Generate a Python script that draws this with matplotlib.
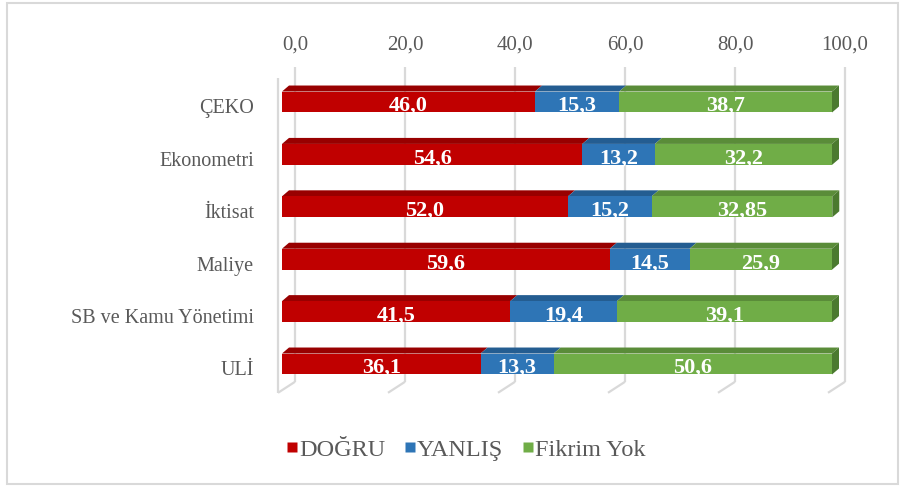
import matplotlib
matplotlib.use('Agg')
import matplotlib.pyplot as plt
from matplotlib.patches import Polygon, Rectangle
from matplotlib.transforms import ScaledTranslation
from matplotlib.lines import Line2D

plt.rcParams['font.family'] = ['Liberation Serif', 'DejaVu Serif']

categories = ['ÇEKO', 'Ekonometri', 'İktisat', 'Maliye', 'SB ve Kamu Yönetimi', 'ULİ']
dogru = [46.0, 54.6, 52.0, 59.6, 41.5, 36.1]
yanlis = [15.3, 13.2, 15.2, 14.5, 19.4, 13.3]
fikrim = [38.7, 32.2, 32.85, 25.9, 39.1, 50.6]
series_names = ['DOĞRU', 'YANLIŞ', 'Fikrim Yok']
xticks = [0, 20, 40, 60, 80, 100]

front_colors = ['#C00000', '#2E75B6', '#70AD47']
top_colors = ['#980000', '#245D91', '#5A8C39']
side_colors = ['#800000', '#1E4F7A', '#4B7A2F']
grid_color = '#D9D9D9'
text_gray = '#595959'

W, H = 906, 489
fig = plt.figure(figsize=(W / 100, H / 100), dpi=100)
ax = fig.add_axes([282 / W, (H - 391.2) / H, 550 / W, 314.4 / H])
ax.set_xlim(0, 100)
ax.set_ylim(5.5, -0.5)
ax.axis('off')


def off(dx, dy):
    """Pixel offset (dy positive = up) as a transform."""
    return ScaledTranslation(dx / 100, dy / 100, fig.dpi_scale_trans)


# pixel -> data unit conversion
p0 = ax.transData.transform((0, 0))
p1 = ax.transData.transform((1, 1))
ux = 1 / (p1[0] - p0[0])   # data per px in x
uy = 1 / (p1[1] - p0[1])   # data per px in y (negative: inverted axis)

# 3D geometry (pixels)
back_dx, back_dy = 13, 8.4
front_dx, front_dy = -4, -2.6
bar_dx, bar_dy = 7, 6

ymin, ymax = -0.5, 5.5
back_t = ax.transData + off(back_dx, back_dy)
front_t = ax.transData + off(front_dx, front_dy)

# back wall gridlines
for v in xticks:
    ax.plot([v, v], [ymin, ymax], color=grid_color, lw=1.6, transform=back_t, zorder=0,
            solid_capstyle='butt', clip_on=False)
    # floor diagonal from back plane to front plane
    bx = v + back_dx * ux
    by = ymax + back_dy * uy
    fx = v + front_dx * ux
    fy = ymax + front_dy * uy
    ax.plot([bx, fx], [by, fy], color=grid_color, lw=1.6, zorder=0, solid_capstyle='butt',
            clip_on=False)
# front left edge
ax.plot([0, 0], [ymin, ymax], color=grid_color, lw=1.6, transform=front_t, zorder=0,
        solid_capstyle='butt', clip_on=False)

# tick labels at top, on back plane
for v in xticks:
    ax.text(v, ymin, f'{v:.1f}'.replace('.', ','), ha='center', va='center', fontsize=15,
            color=text_gray, transform=ax.transData + off(back_dx, back_dy + 23))

# bars
bar_h = 0.4
series = [dogru, yanlis, fikrim]
ys = list(range(len(categories)))
ddx = bar_dx * ux
ddy = bar_dy * uy
left = [0.0] * len(categories)


def fmt(v):
    s = f'{v:.1f}' if abs(round(v, 1) - v) < 1e-9 else f'{v:.2f}'
    return s.replace('.', ',')


label_t = ax.transData + off(0, -3)
for si, vals in enumerate(series):
    ax.barh(ys, vals, left=left, height=bar_h, color=front_colors[si], zorder=3,
            linewidth=0, label=series_names[si])
    for i, v in enumerate(vals):
        x0 = left[i]
        x1 = left[i] + v
        yt = ys[i] - bar_h / 2
        yb = ys[i] + bar_h / 2
        top = Polygon([(x0, yt), (x1, yt), (x1 + ddx, yt + ddy), (x0 + ddx, yt + ddy)],
                      closed=True, facecolor=top_colors[si], edgecolor='none', zorder=2,
                      clip_on=False)
        ax.add_patch(top)
        if si == len(series) - 1:
            side = Polygon([(x1, yt), (x1 + ddx, yt + ddy), (x1 + ddx, yb + ddy), (x1, yb)],
                           closed=True, facecolor=side_colors[si], edgecolor='none', zorder=2,
                           clip_on=False)
            ax.add_patch(side)
        ax.text(x0 + v / 2, ys[i], fmt(v), ha='center', va='center', fontsize=16,
                fontweight='bold', color='white', zorder=5, transform=label_t)
    left = [l + v for l, v in zip(left, vals)]

# category labels
for i, c in enumerate(categories):
    ax.text(0, i, c, ha='right', va='center', fontsize=14.5, color=text_gray,
            transform=ax.transData + off(-28, -6))

# legend
handles = [Line2D([], [], marker='s', linestyle='none', markersize=7,
                  markerfacecolor=front_colors[k], markeredgecolor='none')
           for k in range(3)]
fig.legend(handles, series_names, loc='center', bbox_to_anchor=(465 / W, 1 - 450 / H),
           ncol=3, frameon=False, fontsize=17.5, handletextpad=0.0, columnspacing=0.7,
           handlelength=0.6, labelcolor=text_gray)

# outer border
fig.patches.append(Rectangle((7 / W, 4 / H), 891 / W, 481 / H, transform=fig.transFigure,
                             fill=False, edgecolor=grid_color, lw=1.5))

fig.savefig('out.png', dpi=100)
